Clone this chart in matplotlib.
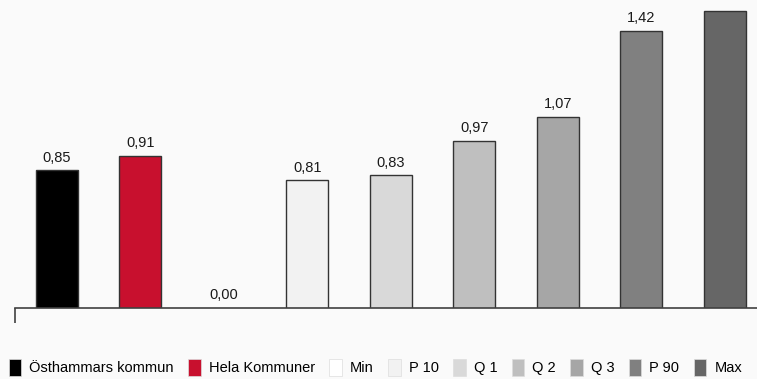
import matplotlib
matplotlib.use("Agg")
import matplotlib.pyplot as plt
from matplotlib.patches import Patch

categories = ["Östhammars kommun", "Hela Kommuner", "Min", "P 10", "Q 1", "Q 2", "Q 3", "P 90", "Max"]
values = [0.85, 0.91, 0.00, 0.81, 0.83, 0.97, 1.07, 1.42, 1.50]
labels = ["0,85", "0,91", "0,00", "0,81", "0,83", "0,97", "1,07", "1,42", ""]
colors = ["#000000", "#C8102E", "#FFFFFF", "#F2F2F2", "#D9D9D9", "#BFBFBF", "#A6A6A6", "#808080", "#666666"]

plt.rcParams['font.family'] = ['Liberation Sans', 'DejaVu Sans']
bg = "#FAFAFA"
fig = plt.figure(figsize=(7.57, 3.79), dpi=100, facecolor=bg)
ax = fig.add_axes([15/757, 71/379, 1 - 15/757, 1 - 71/379], facecolor=bg)

x = list(range(len(categories)))
ymin, ymax = 0.288, 1.546
ax.bar(x, values, width=0.5, color=colors, edgecolor="#333333", linewidth=1.0)
for xi, v, lab in zip(x, values, labels):
    if lab:
        ax.annotate(lab, (xi, max(v, ymin)), xytext=(0, 4), textcoords="offset points",
                    ha="center", va="bottom", fontsize=10.5, color="#1a1a1a", annotation_clip=False)

ax.set_xlim(-0.5, 8.386)
ax.set_ylim(ymin, ymax)
for s in ["top", "right", "left"]:
    ax.spines[s].set_visible(False)
ax.spines["bottom"].set_color("#404040")
ax.spines["bottom"].set_linewidth(1.2)
ax.set_yticks([])
ax.set_xticks([-0.5])
ax.set_xticklabels([""])
ax.tick_params(axis="x", length=11, width=1.2, color="#404040", direction="out")

handles = [Patch(facecolor=c, edgecolor="#dddddd", linewidth=0.5) for c in colors]
fig.legend(handles, categories, loc="lower left", bbox_to_anchor=(0.0, -0.014), ncol=9,
           frameon=False, fontsize=10.5, handlelength=0.85, handleheight=1.4,
           handletextpad=0.55, columnspacing=1.0, borderaxespad=0.2)

fig.savefig("out.png", dpi=100, facecolor=bg)
